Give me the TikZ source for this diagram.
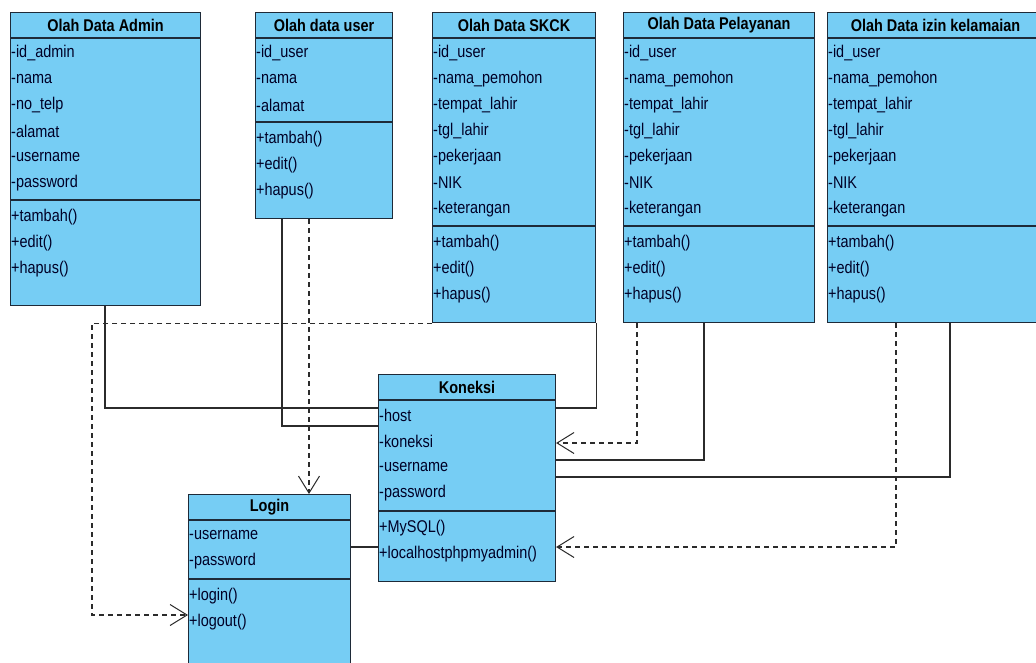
\documentclass[tikz,border=0pt]{standalone}
\usepackage{fontspec}
\setmainfont[FakeStretch=0.85]{Liberation Sans}
\usepackage{tikz}
\usetikzlibrary{arrows.meta}
\definecolor{clsblue}{HTML}{76CDF4}
\definecolor{clsline}{HTML}{1E2A38}
\definecolor{linkgray}{HTML}{2B2B2B}

% class box: name, corner, width, height, title, separator offset, attributes, methods
\newcommand{\umlclass}[8]{%
  \node[clsbox, minimum width=#3, minimum height=#4, anchor=north west] (#1) at (#2) {};
  \draw[clsline, line width=1.1pt] ([yshift=-26pt]#1.north west) -- ([yshift=-26pt]#1.north east);
  \draw[clsline, line width=1.1pt] ([yshift=-#6pt]#1.north west) -- ([yshift=-#6pt]#1.north east);
  \node[clstitle] (#1-title) at ([yshift=-13pt]#1.north) {#5};
  \foreach \t [count=\i] in {#7}
    \node[clsmember] (#1-a\i) at ([yshift={-(15+\i*26)*1pt}]#1.north west) {\t};
  \foreach \t [count=\i] in {#8}
    \node[clsmember] (#1-m\i) at ([yshift={-(#6-9+\i*26)*1pt}]#1.north west) {\t};
}

\begin{document}
\begin{tikzpicture}[x=1pt,y=-1pt,
  clsbox/.style={draw=clsline, fill=clsblue, line width=1.1pt, inner sep=0pt},
  clstitle/.style={font=\fontsize{17pt}{20pt}\selectfont\bfseries, text=black, inner sep=0pt},
  clsmember/.style={font=\fontsize{17pt}{20pt}\selectfont, text=black!85!blue, anchor=west, inner sep=1pt},
  assoc/.style={draw=linkgray, line width=1.1pt},
  dep/.style={draw=linkgray, line width=1.1pt, dash pattern=on 5pt off 4pt,
    -{Straight Barb[length=17pt,width=21pt,line width=1pt]}}]
  \clip (0,0) rectangle (1036,662);
  \fill[white] (0,0) rectangle (1036,662);

  % classes
  \umlclass{admin}{10,12}{190pt}{293pt}{Olah Data Admin}{188}%
    {-id\_admin,-nama,-no\_telp,-alamat,-username,-password}{+tambah(),+edit(),+hapus()}
  \umlclass{user}{255,12}{137pt}{206pt}{Olah data user}{110}%
    {-id\_user,-nama,-alamat}{+tambah(),+edit(),+hapus()}
  \umlclass{skck}{432,12}{163pt}{310pt}{Olah Data SKCK}{214}%
    {-id\_user,-nama\_pemohon,-tempat\_lahir,-tgl\_lahir,-pekerjaan,-NIK,-keterangan}{+tambah(),+edit(),+hapus()}
  \umlclass{pelayanan}{623,12}{191pt}{310pt}{Olah Data Pelayanan}{214}%
    {-id\_user,-nama\_pemohon,-tempat\_lahir,-tgl\_lahir,-pekerjaan,-NIK,-keterangan}{+tambah(),+edit(),+hapus()}
  \umlclass{izin}{827,12}{216pt}{310pt}{Olah Data izin kelamaian}{214}%
    {-id\_user,-nama\_pemohon,-tempat\_lahir,-tgl\_lahir,-pekerjaan,-NIK,-keterangan}{+tambah(),+edit(),+hapus()}
  \umlclass{koneksi}{378,374}{177pt}{207pt}{Koneksi}{137}%
    {-host,-koneksi,-username,-password}{+MySQL(),+localhostphpmyadmin()}
  \umlclass{login}{188,494}{162pt}{185pt}{Login}{85}%
    {-username,-password}{+login(),+logout()}

  % links
  \draw[assoc] ([xshift=95pt]admin.south west) |- ([yshift=-34pt]koneksi.north west);
  \draw[assoc] ([xshift=27pt]user.south west) |- ([yshift=-52pt]koneksi.north west);
  \draw[dep] ([xshift=54pt]user.south west) coordinate (userdep) -- (userdep |- login.north);
  \draw[dep] (skck.south west) -| ([xshift=-96pt,yshift=-121pt]login.north west) -- ([yshift=-121pt]login.north west);
  \draw[assoc] (skck.south east) |- ([yshift=-34pt]koneksi.north east);
  \draw[dep] ([xshift=14pt]pelayanan.south west) |- ([yshift=-69pt]koneksi.north east);
  \draw[assoc] ([xshift=81pt]pelayanan.south west) |- ([yshift=-86pt]koneksi.north east);
  \draw[assoc] ([xshift=123pt]izin.south west) |- ([yshift=-103pt]koneksi.north east);
  \draw[dep] ([xshift=69pt]izin.south west) |- ([yshift=-173pt]koneksi.north east);
  \draw[assoc] ([yshift=-53pt]login.north east) -- ([yshift=-173pt]koneksi.north west);
\end{tikzpicture}
\end{document}
